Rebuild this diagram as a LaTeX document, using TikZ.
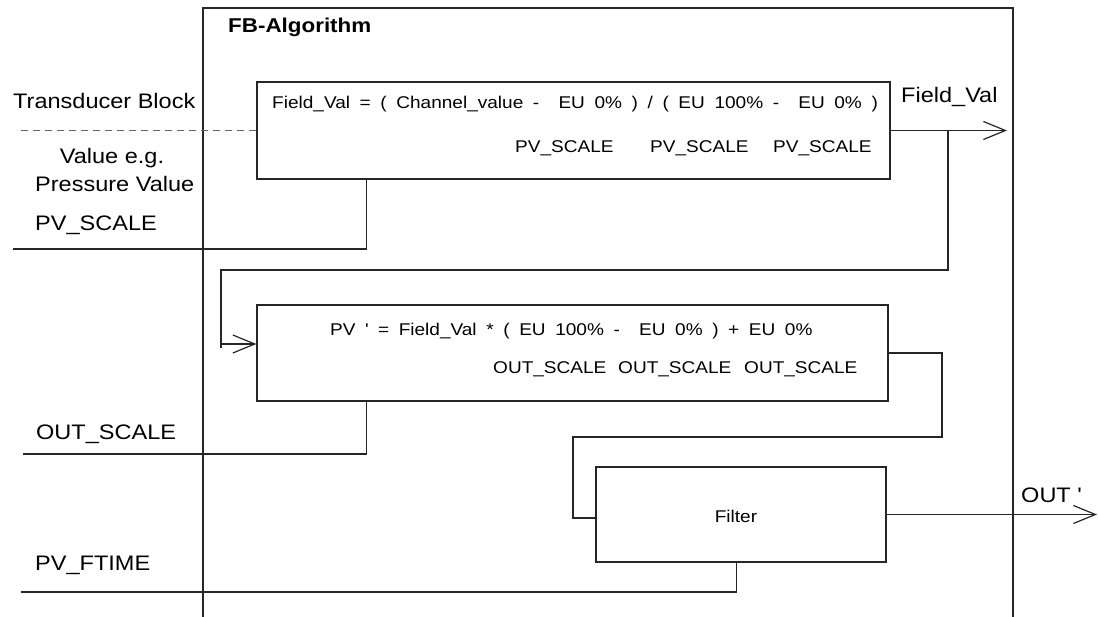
\documentclass[tikz,border=0pt]{standalone}
\usepackage{fontspec}
\setmainfont{Liberation Sans}[FakeStretch=1.12]
\usetikzlibrary{arrows.meta,calc}
\newcommand\widesp{\spaceskip=9.6pt\relax}
\begin{document}
\begin{tikzpicture}[x=1pt,y=-1pt,
  ln/.style={line width=1.2pt,draw=black!85},
  arr/.style={ln,-{Straight Barb[length=22pt,width=18pt,line width=1.2pt]}},
  blk/.style={ln,rectangle,inner sep=0pt},
  big/.style={inner sep=0pt,font=\fontsize{21}{25}\selectfont},
  small/.style={inner sep=0pt,font=\fontsize{17}{21}\selectfont},
  ttl/.style={inner sep=0pt,font=\fontsize{20}{24}\selectfont\bfseries}]
\useasboundingbox (0,0) rectangle (1098,617);
% outer frame (open at bottom)
\coordinate (ol) at (203,617);
\coordinate (or) at (1013,617);
\draw[ln] (ol) -- (203,8) -- (1013,8) -- (or);
\node[ttl,anchor=base west] (title) at (228,33) {FB-Algorithm};
% blocks
\node[blk,minimum width=633pt,minimum height=97pt] (b1) at (573.5,130.5) {};
\node[blk,minimum width=631pt,minimum height=96pt] (b2) at (572.5,353) {};
\node[blk,minimum width=290pt,minimum height=95pt] (f) at (741,514.5) {};
% texts in blocks
\node[small,anchor=base west] (eq1) at (272,109) {\widesp Field\_Val = ( Channel\_value - \ EU 0\% ) / ( EU 100\% - \ EU 0\% )};
\node[small,anchor=base west] (s1) at (515,153) {PV\_SCALE};
\node[small,anchor=base west] (s2) at (650,153) {PV\_SCALE};
\node[small,anchor=base west] (s3) at (773,153) {PV\_SCALE};
\node[small,anchor=base west] (eq2) at (330,336) {\widesp PV \textquotesingle\ = Field\_Val * ( EU 100\% - \ EU 0\% ) + EU 0\%};
\node[small,anchor=base west] (o1) at (493,374) {OUT\_SCALE};
\node[small,anchor=base west] (o2) at (618,374) {OUT\_SCALE};
\node[small,anchor=base west] (o3) at (744,374) {OUT\_SCALE};
\node[small,anchor=base] (ft) at (736,522) {Filter};
% outside labels
\node[big,anchor=base west] (tb) at (13,109) {Transducer Block};
\node[big,anchor=base] (ve) at (112,164) {Value e.g.};
\node[big,anchor=base west] (pv) at (35,192) {Pressure Value};
\node[big,anchor=base west] (pvs) at (35,231) {PV\_SCALE};
\node[big,anchor=base west] (ous) at (36,439) {OUT\_SCALE};
\node[big,anchor=base west] (pvf) at (35,570) {PV\_FTIME};
\node[big,anchor=base west] (fv) at (901,103) {Field\_Val};
\node[big,anchor=base west] (out) at (1021,502) {OUT \textquotesingle};
% connectors
\coordinate (dstart) at (21,131);
\draw[ln,draw=black!60,dash pattern=on 7pt off 5pt,line width=1pt] (dstart) -- (dstart -| b1.west);
\coordinate (pvsin) at (13,249);
\draw[ln] (pvsin) -| ([xshift=110pt]b1.south west);
\coordinate (fvend) at (1007,130.5);
\draw[arr] (b1.east) -- (fvend);
\coordinate (br) at (948,130.5);
\coordinate (br2) at (221,270);
\draw[ln] (br) |- (br2) -- (221,348);
\draw[arr] ([yshift=9pt]b2.west -| br2) -- ([yshift=9pt]b2.west);
\coordinate (ousin) at (23,454);
\draw[ln] (ousin) -| ([xshift=110pt]b2.south west);
\coordinate (c1) at (942,437);
\coordinate (c2) at (573,518);
\draw[ln] (b2.east) -| (c1) -| (c2) -- ([yshift=-3.5pt]f.west);
\coordinate (pvfin) at (21,592);
\draw[ln] (pvfin) -| ([xshift=141pt]f.south west);
\coordinate (outend) at (1097,514.5);
\draw[arr] (f.east) -- (outend);
\end{tikzpicture}
\end{document}
